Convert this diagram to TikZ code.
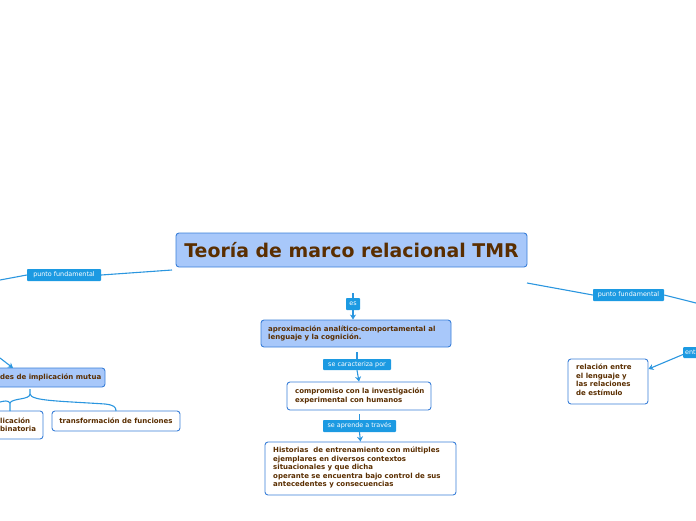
\documentclass[tikz,border=0pt]{standalone}
\usepackage{fontspec}
\setmainfont{DejaVu Sans}
\usetikzlibrary{arrows.meta}
\definecolor{lblue}{HTML}{A8C8FA}
\definecolor{bord}{HTML}{3A7FD8}
\definecolor{conn}{HTML}{2B96DF}
\definecolor{tagc}{HTML}{1C9AE2}
\definecolor{brown}{HTML}{5A2E00}
\tikzset{
  topic/.style={draw=bord, line width=0.9pt, fill=lblue, rounded corners=3pt, inner sep=0pt, text=brown},
  sub/.style={draw=bord, line width=0.9pt, fill=white, rounded corners=3pt, inner sep=0pt, text=brown},
  tag/.style={fill=tagc, text=white, inner sep=0pt, rounded corners=0.8pt, font=\fontsize{6.4}{7}\selectfont},
  txt/.style={text=brown, font=\bfseries\fontsize{7}{8.5}\selectfont, align=left, inner sep=0pt, anchor=north west},
  con/.style={draw=conn, line width=1.1pt},
  arr/.style={con, -{Stealth[length=5pt,width=6pt]}}
}
\begin{document}
\begin{tikzpicture}[x=1pt,y=-1pt]
\useasboundingbox (0,0) rectangle (696,520);
% title
\node[topic, minimum width=351pt, minimum height=34pt, font=\bfseries\fontsize{18.9}{20}\selectfont] (title) at (351.5,250) {Teoría de marco relacional TMR};
% coordinates for free ends
\coordinate (tl) at (172,270);
\coordinate (lend) at (0,280);
\coordinate (tr) at (527,283);
\coordinate (rend) at (696,303);
\coordinate (tb) at (353,293);
\coordinate (lin) at (0,358);
% tags
\node[tag, minimum width=74pt, minimum height=12pt] (pfl) at (64,275) {punto fundamental};
\node[tag, minimum width=71pt, minimum height=12pt] (pfr) at (628.5,295) {punto fundamental};
\node[tag, minimum width=14pt, minimum height=12pt] (es) at (353,304) {es};
\node[tag, minimum width=68pt, minimum height=11pt] (sc) at (357,364.5) {se caracteriza por};
\node[tag, minimum width=73pt, minimum height=12pt] (sa) at (359.5,426) {se aprende a través};
\node[tag, minimum width=24pt, minimum height=11pt, anchor=west, text width=20pt, align=left] (ent) at (683,352.5) {ent};
% nodes
\node[topic, minimum width=190pt, minimum height=27pt] (apx) at (356,333.5) {};
\node[txt] at (268,325.5) {aproximación analítico-comportamental al\\lenguaje y la cognición.};
\node[sub, minimum width=144pt, minimum height=28pt] (comp) at (359,396) {};
\node[txt] at (295,388) {compromiso con la investigación\\experimental con humanos};
\node[sub, minimum width=191pt, minimum height=53pt] (hist) at (360.5,468.5) {};
\node[txt] at (273,447) {Historias\ \ de entrenamiento con múltiples\\ejemplares en diversos contextos\\situacionales y que dicha\\operante se encuentra bajo control de sus\\antecedentes y consecuencias};
\node[sub, minimum width=80pt, minimum height=45pt] (rel) at (608,381.5) {};
\node[txt] at (576,364) {relación entre\\el lenguaje y\\las relaciones\\de estímulo};
\node[topic, minimum width=140pt, minimum height=19pt] (mut) at (35,377.5) {};
\node[txt, anchor=west] at (0,377.5) {des de implicación mutua};
\node[sub, minimum width=80pt, minimum height=28pt] (imp) at (3,425) {};
\node[txt] at (0,417.5) {licación\\binatoria};
\node[sub, minimum width=128pt, minimum height=20pt] (tf) at (116,421) {};
\node[txt, anchor=center] at (116,421) {transformación de funciones};
% connectors
\draw[con] (tl) -- (pfl.east);
\draw[con] (pfl.west) -- (lend);
\draw[con] (tr) -- (pfr.west);
\draw[con] (pfr.east) -- (rend);
\draw[con] (tb) -- (es.north);
\draw[arr] (es.south) -- (apx.north -| es.south);
\draw[con] (357,352) -- (sc.north);
\draw[arr] (sc.south) -- (comp.north);
\draw[con] (359.5,414) -- (sa.north);
\draw[arr] (sa.south) -- (hist.north);
\draw[arr] (ent.west) ++(0,2) -- (rel.east |- 0,369);
\draw[arr] (lin) -- (13,368);
\draw[con] (30,389) -- (30,394) .. controls (30,400) and (12,398) .. (10,403) -- (10,411);
\draw[con] (10,403) .. controls (8,400) and (4,401) .. (0,402);
\draw[con] (30,394) .. controls (31,401) and (60,401) .. (105,404) .. controls (114,405) and (116,407) .. (116,411);
\end{tikzpicture}
\end{document}
